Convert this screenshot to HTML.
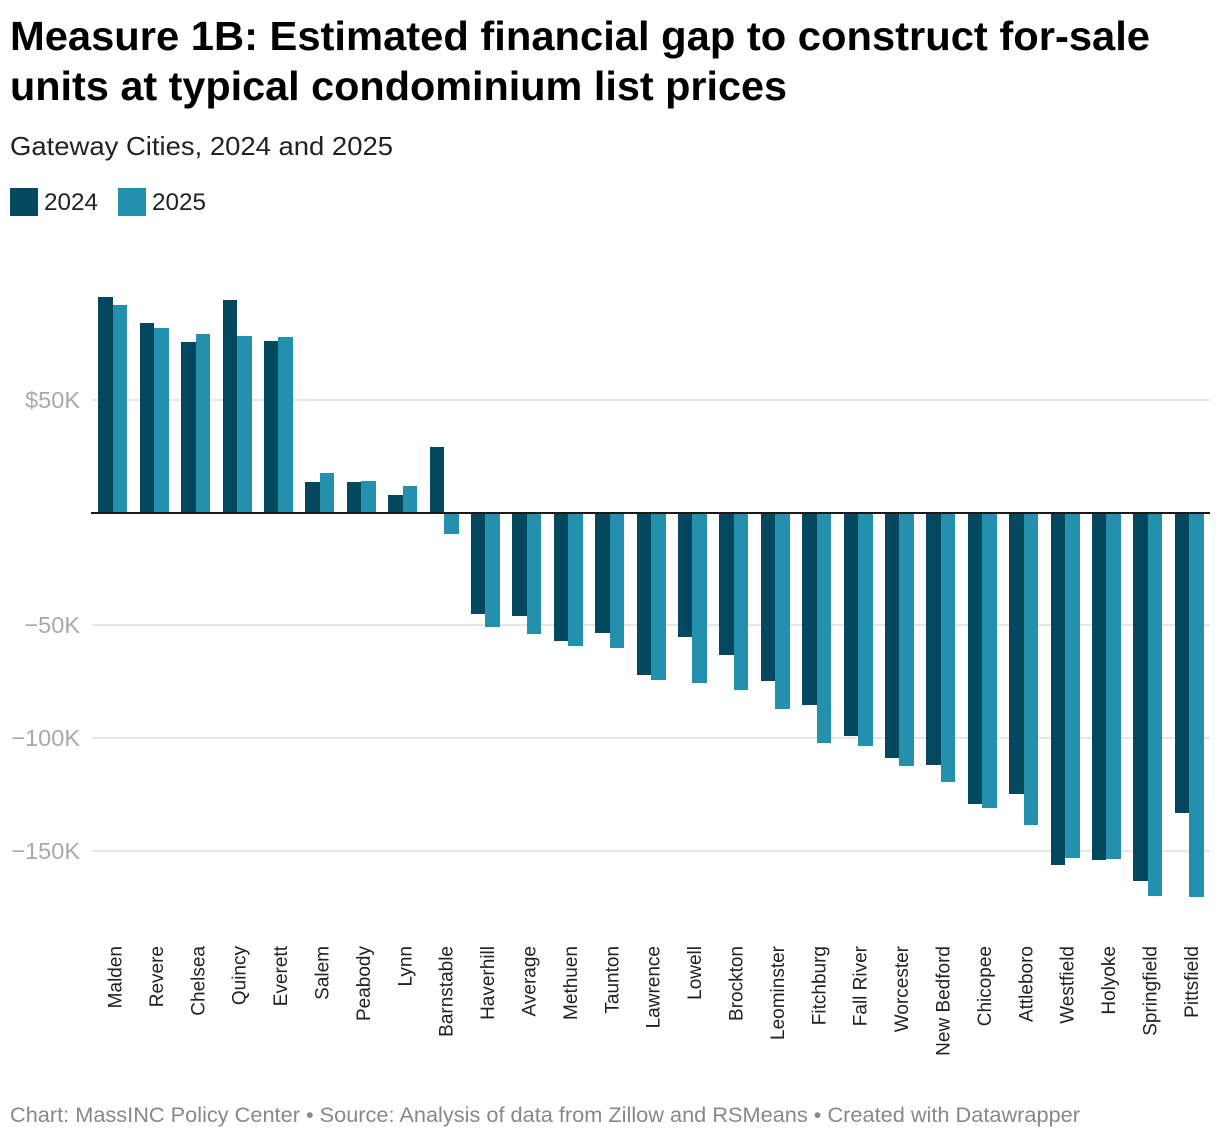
<!DOCTYPE html>
<html lang="en">
<head>
<meta charset="utf-8">
<title>Measure 1B: Estimated financial gap</title>
<style>
html,body{margin:0;padding:0;background:#fff;width:1220px;height:1138px;overflow:hidden}
svg{display:block}
text{font-family:"Liberation Sans",sans-serif}
</style>
</head>
<body>
<svg id="chart" width="1220" height="1138" viewBox="0 0 1220 1138" xmlns="http://www.w3.org/2000/svg">
  <text x="10" y="50" font-size="41" font-weight="700" fill="#000" textLength="1140" lengthAdjust="spacingAndGlyphs">Measure 1B: Estimated financial gap to construct for-sale</text>
  <text x="10" y="100" font-size="41" font-weight="700" fill="#000" textLength="777" lengthAdjust="spacingAndGlyphs">units at typical condominium list prices</text>
  <text x="10" y="155" font-size="26" fill="#222" textLength="383" lengthAdjust="spacingAndGlyphs">Gateway Cities, 2024 and 2025</text>
  <rect x="10" y="188" width="28" height="28" fill="#03485f"/>
  <text x="44" y="210" font-size="24" fill="#222" textLength="54" lengthAdjust="spacingAndGlyphs">2024</text>
  <rect x="118" y="188" width="28" height="28" fill="#2390ae"/>
  <text x="152" y="210" font-size="24" fill="#222" textLength="54" lengthAdjust="spacingAndGlyphs">2025</text>
  <g id="grid"></g>
  <g id="bars"></g>
  <g id="xlabels"></g>
  <text x="10" y="1122" font-size="21.5" fill="#888" textLength="1070" lengthAdjust="spacingAndGlyphs">Chart: MassINC Policy Center • Source: Analysis of data from Zillow and RSMeans • Created with Datawrapper</text>
</svg>
<script>
const cities = ["Malden","Revere","Chelsea","Quincy","Everett","Salem","Peabody","Lynn","Barnstable","Haverhill","Average","Methuen","Taunton","Lawrence","Lowell","Brockton","Leominster","Fitchburg","Fall River","Worcester","New Bedford","Chicopee","Attleboro","Westfield","Holyoke","Springfield","Pittsfield"];
const values2024 = [95.9,84.4,75.9,94.6,76.4,13.8,13.8,8,29.3,-44.8,-45.7,-56.8,-53.3,-71.9,-55,-63,-74.6,-85.3,-99,-108.8,-112,-129,-124.8,-156.3,-154,-163.4,-133.2];
const values2025 = [92.4,82.1,79.5,78.6,78.2,17.8,14.2,12,-9.3,-50.6,-53.7,-59,-60,-74.2,-75.5,-78.6,-87,-102,-103.5,-112.3,-119.5,-131,-138.5,-153.2,-153.6,-170,-170.5];
const tickValues = [50,-50,-100,-150];
const tickLabels = ["$50K","−50K","−100K","−150K"];

const NS = "http://www.w3.org/2000/svg";
function yScale(v){ return 513 - v * 2.252; }
function xScale(i){ return 98.32 + i * 41.4; }
const barW = 14.5;

const grid = document.getElementById("grid");
const bars = document.getElementById("bars");
const xlabels = document.getElementById("xlabels");

tickValues.forEach(function(t, i){
  const y = Math.round(yScale(t) - 0.2);
  const line = document.createElementNS(NS, "rect");
  
  
  line.setAttribute("x", 92);
  line.setAttribute("y", y - 1);
  line.setAttribute("width", 1118);
  line.setAttribute("height", 2);
  line.setAttribute("fill", "#e6e6e6");
  grid.appendChild(line);
  const label = document.createElementNS(NS, "text");
  
  
  label.setAttribute("x", 80);
  label.setAttribute("y", y + 8);
  label.setAttribute("text-anchor", "end");
  label.setAttribute("font-size", "23.5");
  label.setAttribute("fill", "#a9a9a9");
  label.textContent = tickLabels[i];
  grid.appendChild(label);
});

function drawBar(v, x0, x1, color){
  const left = Math.round(x0), right = Math.round(x1);
  const y0 = yScale(0), yv = yScale(v);
  const top = Math.round(Math.min(y0, yv)), bottom = Math.round(Math.max(y0, yv));
  const r = document.createElementNS(NS, "rect");
  
  
  r.setAttribute("x", left);
  r.setAttribute("y", top);
  r.setAttribute("width", right - left);
  r.setAttribute("height", bottom - top);
  r.setAttribute("fill", color);
  bars.appendChild(r);
}

cities.forEach(function(name, i){
  const x = xScale(i);
  drawBar(values2024[i], x, x + barW, "#03485f");
  drawBar(values2025[i], x + barW, x + 2 * barW, "#2390ae");
  const t = document.createElementNS(NS, "text");
  
  
  const lx = x + barW + 8.7;
  t.setAttribute("transform", "translate(" + lx + ",946) rotate(-90)");
  t.setAttribute("text-anchor", "end");
  t.setAttribute("font-size", "19");
  t.setAttribute("fill", "#222");
  t.textContent = name;
  xlabels.appendChild(t);
});

const axis = document.createElementNS(NS, "rect");


axis.setAttribute("x", 91);
axis.setAttribute("y", 512);
axis.setAttribute("width", 1119);
axis.setAttribute("height", 2);
axis.setAttribute("fill", "#1a1a1a");
bars.appendChild(axis);
</script>
</body>
</html>
